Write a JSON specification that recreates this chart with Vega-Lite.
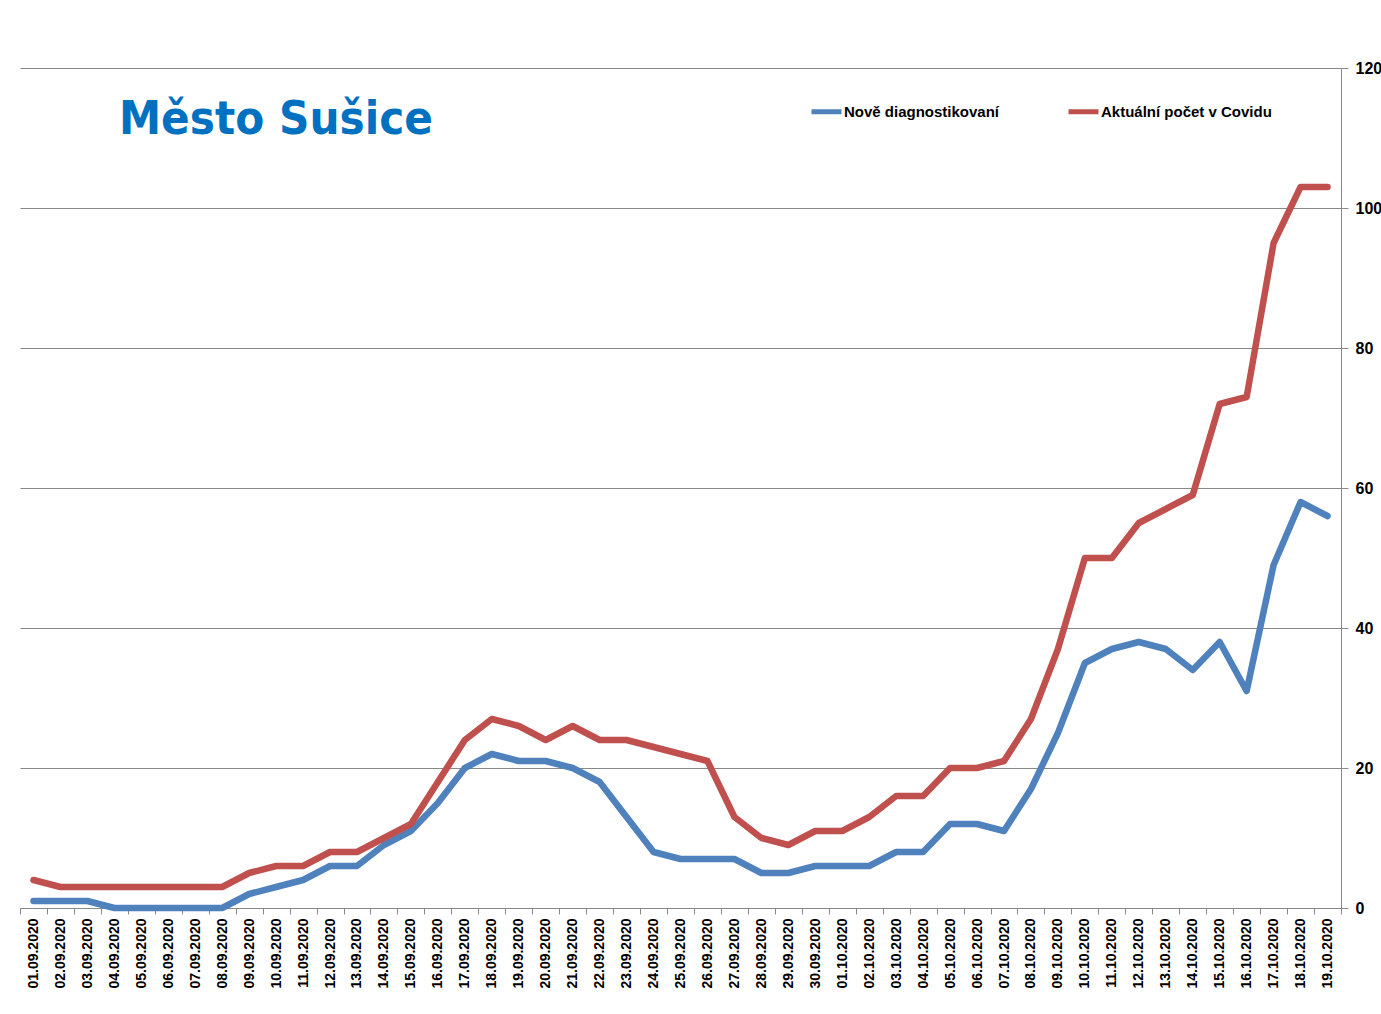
{
  "$schema": "https://vega.github.io/schema/vega-lite/v6.json",
  "autosize": {"type": "none"},
  "width": 1321,
  "height": 840,
  "padding": {"left": 20, "top": 68, "right": 40, "bottom": 106},
  "background": "white",
  "title": {
    "text": "Město Sušice",
    "anchor": "start",
    "frame": "group",
    "orient": "top",
    "dx": 99,
    "dy": 125,
    "baseline": "alphabetic",
    "font": "DejaVu Sans Condensed, DejaVu Sans",
    "fontWeight": "bold",
    "fontSize": 47,
    "color": "#0070C0"
  },
  "data": {
    "values": [
      {"d": "01.09.2020", "n": 1, "a": 4},
      {"d": "02.09.2020", "n": 1, "a": 3},
      {"d": "03.09.2020", "n": 1, "a": 3},
      {"d": "04.09.2020", "n": 0, "a": 3},
      {"d": "05.09.2020", "n": 0, "a": 3},
      {"d": "06.09.2020", "n": 0, "a": 3},
      {"d": "07.09.2020", "n": 0, "a": 3},
      {"d": "08.09.2020", "n": 0, "a": 3},
      {"d": "09.09.2020", "n": 2, "a": 5},
      {"d": "10.09.2020", "n": 3, "a": 6},
      {"d": "11.09.2020", "n": 4, "a": 6},
      {"d": "12.09.2020", "n": 6, "a": 8},
      {"d": "13.09.2020", "n": 6, "a": 8},
      {"d": "14.09.2020", "n": 9, "a": 10},
      {"d": "15.09.2020", "n": 11, "a": 12},
      {"d": "16.09.2020", "n": 15, "a": 18},
      {"d": "17.09.2020", "n": 20, "a": 24},
      {"d": "18.09.2020", "n": 22, "a": 27},
      {"d": "19.09.2020", "n": 21, "a": 26},
      {"d": "20.09.2020", "n": 21, "a": 24},
      {"d": "21.09.2020", "n": 20, "a": 26},
      {"d": "22.09.2020", "n": 18, "a": 24},
      {"d": "23.09.2020", "n": 13, "a": 24},
      {"d": "24.09.2020", "n": 8, "a": 23},
      {"d": "25.09.2020", "n": 7, "a": 22},
      {"d": "26.09.2020", "n": 7, "a": 21},
      {"d": "27.09.2020", "n": 7, "a": 13},
      {"d": "28.09.2020", "n": 5, "a": 10},
      {"d": "29.09.2020", "n": 5, "a": 9},
      {"d": "30.09.2020", "n": 6, "a": 11},
      {"d": "01.10.2020", "n": 6, "a": 11},
      {"d": "02.10.2020", "n": 6, "a": 13},
      {"d": "03.10.2020", "n": 8, "a": 16},
      {"d": "04.10.2020", "n": 8, "a": 16},
      {"d": "05.10.2020", "n": 12, "a": 20},
      {"d": "06.10.2020", "n": 12, "a": 20},
      {"d": "07.10.2020", "n": 11, "a": 21},
      {"d": "08.10.2020", "n": 17, "a": 27},
      {"d": "09.10.2020", "n": 25, "a": 37},
      {"d": "10.10.2020", "n": 35, "a": 50},
      {"d": "11.10.2020", "n": 37, "a": 50},
      {"d": "12.10.2020", "n": 38, "a": 55},
      {"d": "13.10.2020", "n": 37, "a": 57},
      {"d": "14.10.2020", "n": 34, "a": 59},
      {"d": "15.10.2020", "n": 38, "a": 72},
      {"d": "16.10.2020", "n": 31, "a": 73},
      {"d": "17.10.2020", "n": 49, "a": 95},
      {"d": "18.10.2020", "n": 58, "a": 103},
      {"d": "19.10.2020", "n": 56, "a": 103}
    ]
  },
  "transform": [
    {"fold": ["n", "a"], "as": ["k", "value"]},
    {"lookup": "k", "from": {"data": {"values": [{"k": "n", "series": "Nově diagnostikovaní"}, {"k": "a", "series": "Aktuální počet v Covidu"}]}, "key": "k", "fields": ["series"]}}
  ],
  "mark": {"type": "line", "strokeWidth": 6.5, "strokeCap": "round", "strokeJoin": "round"},
  "encoding": {
    "x": {
      "field": "d",
      "type": "ordinal",
      "sort": null,
      "scale": {"paddingInner": 0, "paddingOuter": 0},
      "axis": {
        "title": null,
        "labelAngle": -90,
        "tickBand": "extent",
        "labelFont": "Liberation Sans",
        "labelFontWeight": "bold",
        "labelFontSize": 14,
        "labelColor": "#000000",
        "labelPadding": 4,
        "tickSize": 6,
        "tickColor": "#888888",
        "domainColor": "#888888",
        "grid": false
      }
    },
    "y": {
      "field": "value",
      "type": "quantitative",
      "scale": {"domain": [0, 120], "nice": false},
      "axis": {
        "orient": "right",
        "title": null,
        "values": [0, 20, 40, 60, 80, 100, 120],
        "labelFont": "Liberation Sans",
        "labelFontWeight": "bold",
        "labelFontSize": 16,
        "labelColor": "#000000",
        "labelPadding": 7,
        "tickSize": 7,
        "tickColor": "#888888",
        "domainColor": "#888888",
        "grid": true,
        "gridColor": "#888888",
        "gridWidth": 1
      }
    },
    "color": {
      "field": "series",
      "type": "nominal",
      "scale": {"domain": ["Nově diagnostikovaní", "Aktuální počet v Covidu"], "range": ["#4F81BD", "#C0504D"]},
      "legend": {
        "title": null,
        "orient": "none",
        "legendX": 789,
        "legendY": 26,
        "direction": "horizontal",
        "symbolType": "stroke",
        "symbolSize": 900,
        "symbolStrokeWidth": 5,
        "labelFont": "Liberation Sans",
        "labelFontWeight": "bold",
        "labelFontSize": 15,
        "labelLimit": 400,
        "labelColor": "#000000",
        "labelOffset": 0,
        "columnPadding": 58
      }
    }
  },
  "config": {"view": {"stroke": null}}
}
